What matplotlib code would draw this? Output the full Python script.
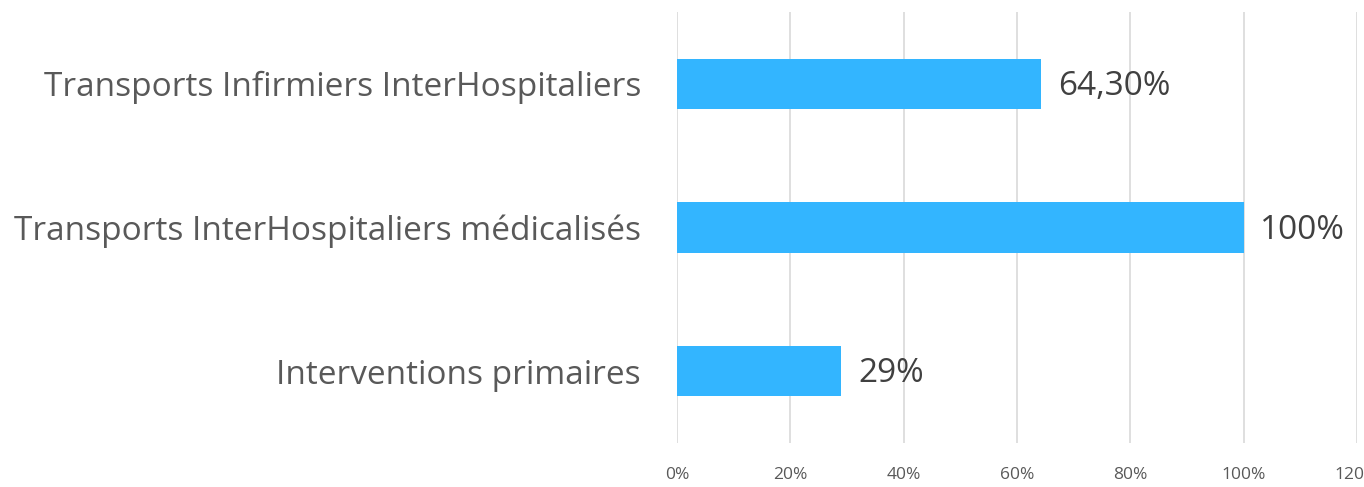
import matplotlib
matplotlib.use("Agg")
import matplotlib.pyplot as plt
from matplotlib.ticker import FuncFormatter

# Data
categories = [
    "Interventions primaires",
    "Transports InterHospitaliers médicalisés",
    "Transports Infirmiers InterHospitaliers",
]
values = [29, 100, 64.3]
value_labels = ["29%", "100%", "64,30%"]
x_ticks = [0, 20, 40, 60, 80, 100, 120]

BAR_COLOR = "#33b5ff"
GRID_COLOR = "#d9d9d9"
CAT_COLOR = "#595959"
VAL_COLOR = "#404040"
FONT = ["Open Sans", "DejaVu Sans"]

fig = plt.figure(figsize=(13.64, 4.87), dpi=100)
W, H = 1364, 487
x0, x1 = 677, 1357
y_top, y_bot = 12, 443
ax = fig.add_axes([x0 / W, 1 - y_bot / H, (x1 - x0) / W, (y_bot - y_top) / H])

pos = range(len(categories))
ax.barh(pos, values, height=0.35, color=BAR_COLOR, zorder=3)

ax.set_xlim(0, 120)
ax.set_ylim(-0.5, len(categories) - 0.5)
ax.set_xticks(x_ticks)
ax.xaxis.set_major_formatter(FuncFormatter(lambda v, p: f"{v:.0f}%"))
ax.grid(axis="x", color=GRID_COLOR, linewidth=1.2, zorder=0)
ax.set_axisbelow(True)

ax.set_yticks(list(pos))
ax.set_yticklabels(categories, family=FONT, fontsize=24, color=CAT_COLOR)
for lbl in ax.get_xticklabels():
    lbl.set_family(FONT)
    lbl.set_fontsize(12.5)
    lbl.set_color(CAT_COLOR)

ax.tick_params(axis="y", length=0, pad=26)
ax.tick_params(axis="x", length=0, pad=17)
for s in ax.spines.values():
    s.set_visible(False)

for p, v, t in zip(pos, values, value_labels):
    ax.annotate(t, (v, p), xytext=(12, -2), textcoords="offset points",
                ha="left", va="center", family=FONT, fontsize=24,
                color=VAL_COLOR, zorder=4)

fig.savefig("out.png", dpi=100, facecolor="white")
